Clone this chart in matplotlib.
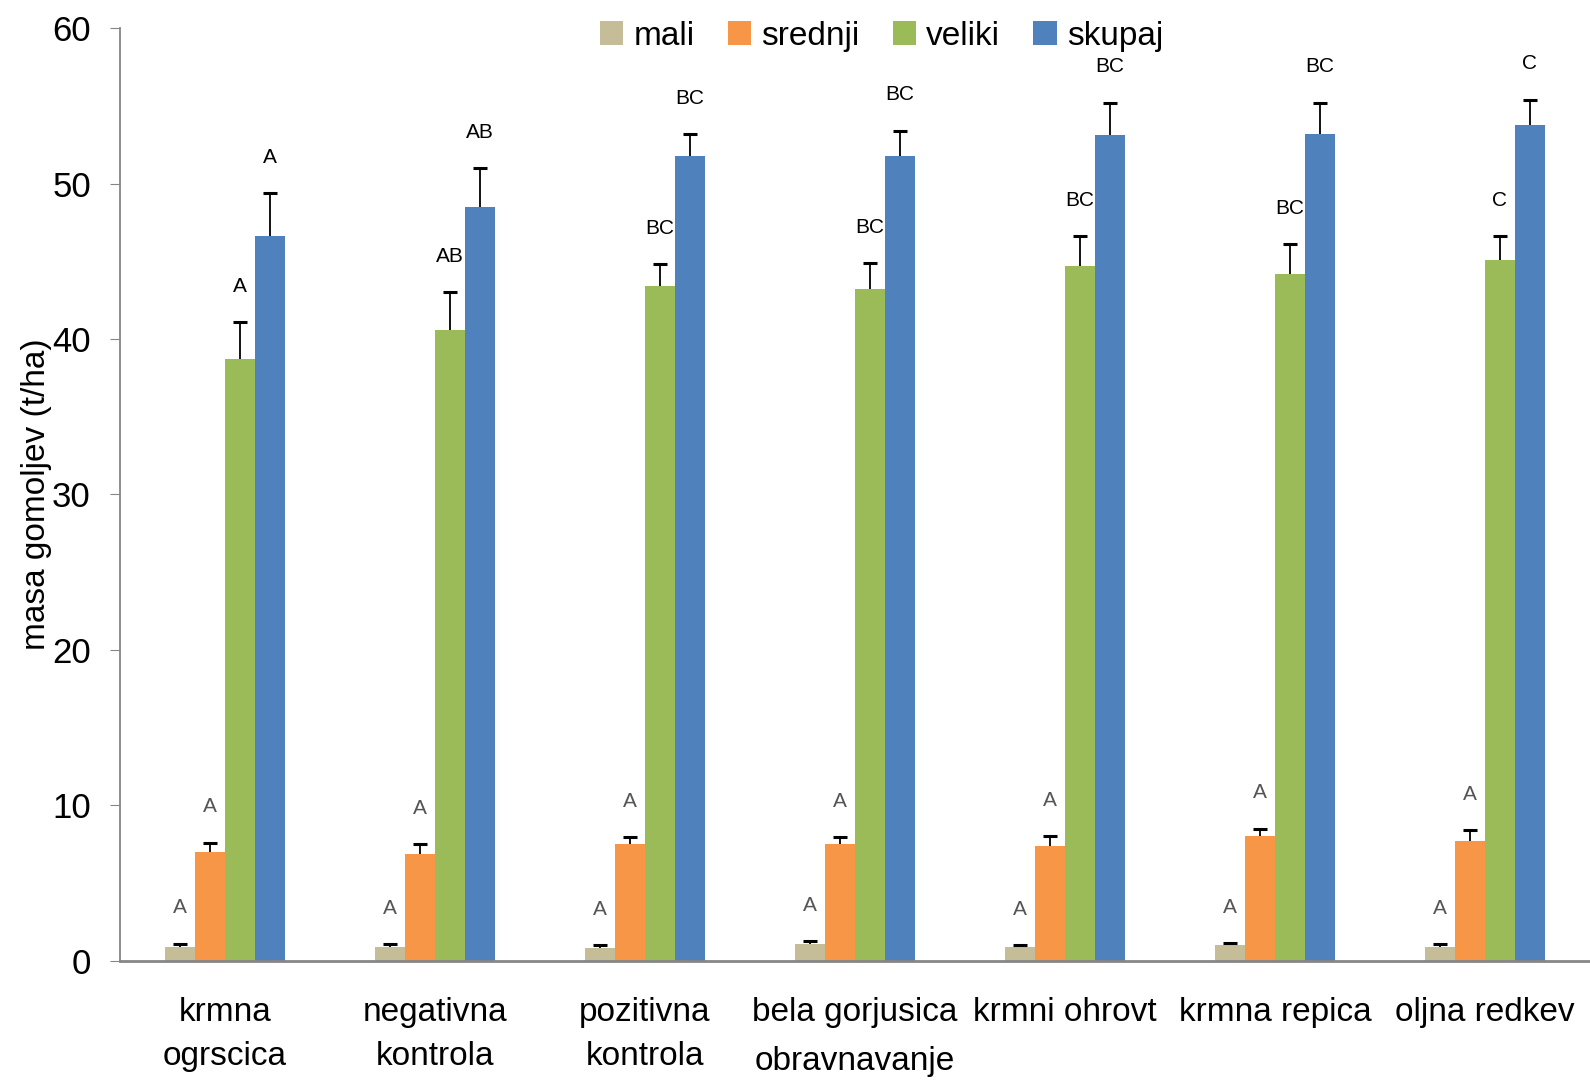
import matplotlib
matplotlib.use("Agg")
import matplotlib.pyplot as plt
import numpy as np

# Treatments (x categories)
categories = ["krmna\nogrscica", "negativna\nkontrola", "pozitivna\nkontrola",
              "bela gorjusica", "krmni ohrovt", "krmna repica", "oljna redkev"]
series_names = ["mali", "srednji", "veliki", "skupaj"]

# Tuber mass (t/ha) per size class
mali = [0.9, 0.9, 0.85, 1.1, 0.9, 1.0, 0.9]
srednji = [7.0, 6.9, 7.5, 7.5, 7.4, 8.0, 7.7]
veliki = [38.7, 40.6, 43.4, 43.2, 44.7, 44.2, 45.1]
skupaj = [46.6, 48.5, 51.8, 51.8, 53.1, 53.2, 53.8]

# Standard errors (upper bars only)
mali_err = [0.2, 0.15, 0.15, 0.15, 0.1, 0.15, 0.15]
srednji_err = [0.6, 0.6, 0.45, 0.45, 0.6, 0.5, 0.7]
veliki_err = [2.4, 2.4, 1.4, 1.7, 1.9, 1.9, 1.5]
skupaj_err = [2.8, 2.5, 1.4, 1.6, 2.1, 2.0, 1.6]

# Significance letters
mali_letters = ["A"] * 7
srednji_letters = ["A"] * 7
veliki_letters = ["A", "AB", "BC", "BC", "BC", "BC", "C"]
skupaj_letters = ["A", "AB", "BC", "BC", "BC", "BC", "C"]

colors = ["#C4BD97", "#F79646", "#9BBB59", "#4F81BD"]

plt.rcParams["font.family"] = ["Liberation Sans", "DejaVu Sans"]

fig = plt.figure(figsize=(15.9, 10.82), dpi=100)
ax = fig.add_axes([0.0755, 0.112, 0.9245, 0.862])

values = [mali, srednji, veliki, skupaj]
errors = [mali_err, srednji_err, veliki_err, skupaj_err]
letters = [mali_letters, srednji_letters, veliki_letters, skupaj_letters]

x = np.arange(len(categories))
width = 0.1425
offsets = (np.arange(4) - 1.5) * width

for i in range(4):
    xs = x + offsets[i]
    ax.bar(xs, values[i], width=width, color=colors[i], label=series_names[i],
           edgecolor="none", zorder=2)
    eb = ax.errorbar(xs, values[i], yerr=[np.zeros(len(x)), errors[i]],
                     fmt="none", ecolor="black", elinewidth=1.3, capsize=5,
                     capthick=2.2, zorder=3)
    # keep only the upper cap
    eb[1][0].set_visible(False)
    for xi, v, e, t in zip(xs, values[i], errors[i], letters[i]):
        col = "#555555" if i < 2 else "black"
        ax.text(xi, v + e + 2.3, t, ha="center", va="center", fontsize=15,
                color=col, zorder=4)

ax.set_xlim(-0.5, len(categories) - 0.5)
ax.set_ylim(0, 60)
ax.set_yticks(np.arange(0, 61, 10))
ax.tick_params(axis="y", direction="out", length=7, color="#868686",
               labelsize=25, pad=14)
ax.tick_params(axis="x", length=0, labelsize=24, pad=26)
ax.set_xticks(x)
ax.set_xticklabels(categories, linespacing=1.55)

for s in ["top", "right"]:
    ax.spines[s].set_visible(False)
ax.spines["left"].set_color("#868686")
ax.spines["bottom"].set_color("#868686")
ax.spines["left"].set_linewidth(1.3)
ax.spines["bottom"].set_linewidth(2)

ax.set_ylabel("masa gomoljev (t/ha)", fontsize=24, va="center")
ax.yaxis.set_label_coords(-0.057, 0.5)
ax.set_xlabel("obravnavanje", fontsize=24, va="center")
ax.xaxis.set_label_coords(0.5, -0.108)

ax.legend(loc="upper center", bbox_to_anchor=(0.518, 1.04), ncol=4,
          frameon=False, fontsize=24, handlelength=0.7, handleheight=0.7,
          handletextpad=0.3, columnspacing=1.0)

fig.savefig("out.png", dpi=100)
